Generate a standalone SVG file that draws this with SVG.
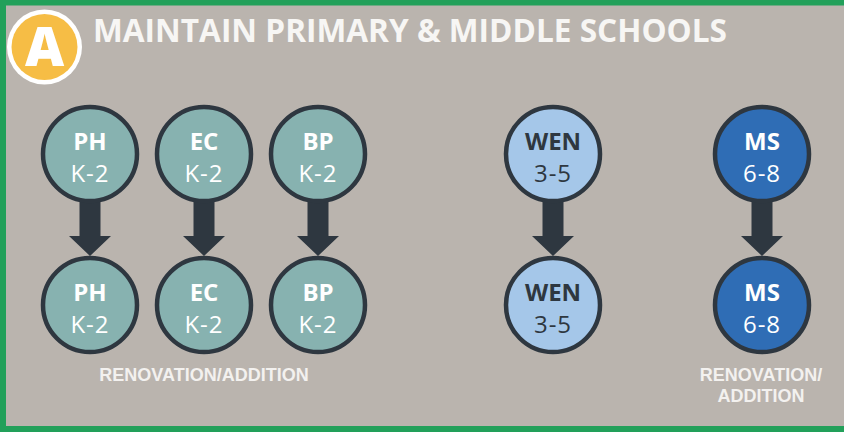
<svg xmlns="http://www.w3.org/2000/svg" width="844" height="432" viewBox="0 0 844 432">
<defs>
<style>
.bg{fill:#bab4ae}
.border{fill:#22a05a}
.node circle{stroke:#2e3740;stroke-width:4.5}
.teal circle{fill:#87b2b0}
.light circle{fill:#a5c7e9}
.dark circle{fill:#2f6db5}
.t1{font-family:"Open Sans","Liberation Sans",sans-serif;font-weight:700;font-size:24px;text-anchor:middle}
.t2{font-family:"Open Sans","Liberation Sans",sans-serif;font-weight:400;font-size:24px;text-anchor:middle;letter-spacing:1px}
.teal text,.dark text{fill:#ffffff}
.light text{fill:#2e3740}
.arrow{fill:#2e3740}
.label{font-family:"Liberation Sans",Arial,sans-serif;font-weight:700;font-size:18px;fill:#f3f1ef;text-anchor:middle}
</style>
</defs>
<rect class="bg" x="0" y="0" width="844" height="432"/>
<rect class="border" x="0" y="0" width="844" height="5.5"/>
<rect class="border" x="0" y="0" width="6" height="432"/>
<rect class="border" x="0" y="426" width="844" height="6"/>

<g id="badge">
<circle cx="44.5" cy="47" r="37.5" fill="#ffffff"/>
<circle cx="44.5" cy="47" r="33" fill="#f6bd45"/>
<text x="44.5" y="66" font-family="'Open Sans','Liberation Sans',sans-serif" font-weight="800" font-size="54" fill="#ffffff" text-anchor="middle">A</text>
</g>
<text id="title" x="93" y="42" font-family="'Open Sans','Liberation Sans',sans-serif" font-weight="700" font-size="32" fill="#f7f6f4" textLength="634" lengthAdjust="spacingAndGlyphs">MAINTAIN PRIMARY &amp; MIDDLE SCHOOLS</text>

<g id="connectors">
<path class="arrow" d="M79.5 198 H100.5 V236 H111 L90 256 L69 236 H79.5 Z"/>
<path class="arrow" d="M193.5 198 H214.5 V236 H225 L204 256 L183 236 H193.5 Z"/>
<path class="arrow" d="M307.5 198 H328.5 V236 H339 L318 256 L297 236 H307.5 Z"/>
<path class="arrow" d="M542.5 198 H563.5 V236 H574 L553 256 L532 236 H542.5 Z"/>
<path class="arrow" d="M751.5 198 H772.5 V236 H783 L762 256 L741 236 H751.5 Z"/>
</g>

<g id="ph-top" class="node teal"><circle cx="90" cy="154" r="47"/><text class="t1" x="90" y="150">PH</text><text class="t2" x="90" y="182">K-2</text></g>
<g id="ec-top" class="node teal"><circle cx="204" cy="154" r="47"/><text class="t1" x="204" y="150">EC</text><text class="t2" x="204" y="182">K-2</text></g>
<g id="bp-top" class="node teal"><circle cx="318" cy="154" r="47"/><text class="t1" x="318" y="150">BP</text><text class="t2" x="318" y="182">K-2</text></g>
<g id="wen-top" class="node light"><circle cx="553" cy="154" r="47"/><text class="t1" x="553" y="150">WEN</text><text class="t2" x="553" y="182">3-5</text></g>
<g id="ms-top" class="node dark"><circle cx="762" cy="154" r="47"/><text class="t1" x="762" y="150">MS</text><text class="t2" x="762" y="182">6-8</text></g>

<g id="ph-bottom" class="node teal"><circle cx="90" cy="305" r="47"/><text class="t1" x="90" y="301">PH</text><text class="t2" x="90" y="333">K-2</text></g>
<g id="ec-bottom" class="node teal"><circle cx="204" cy="305" r="47"/><text class="t1" x="204" y="301">EC</text><text class="t2" x="204" y="333">K-2</text></g>
<g id="bp-bottom" class="node teal"><circle cx="318" cy="305" r="47"/><text class="t1" x="318" y="301">BP</text><text class="t2" x="318" y="333">K-2</text></g>
<g id="wen-bottom" class="node light"><circle cx="553" cy="305" r="47"/><text class="t1" x="553" y="301">WEN</text><text class="t2" x="553" y="333">3-5</text></g>
<g id="ms-bottom" class="node dark"><circle cx="762" cy="305" r="47"/><text class="t1" x="762" y="301">MS</text><text class="t2" x="762" y="333">6-8</text></g>

<text class="label" x="204" y="381">RENOVATION/ADDITION</text>
<text class="label" x="761" y="381">RENOVATION/</text>
<text class="label" x="761" y="402">ADDITION</text>
</svg>
